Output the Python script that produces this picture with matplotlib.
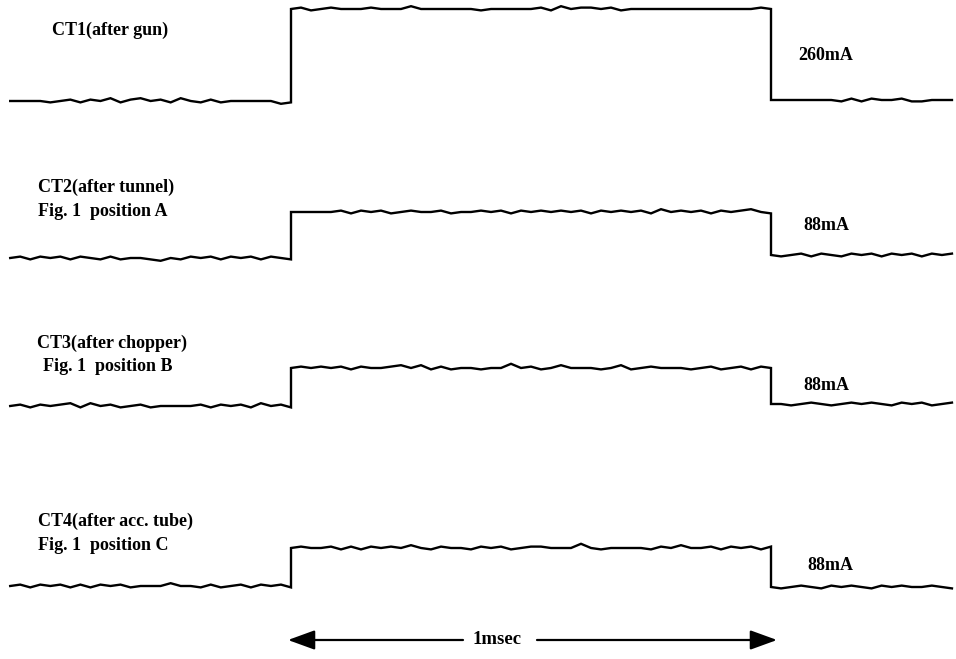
import numpy as np
import matplotlib
matplotlib.use("Agg")
import matplotlib.pyplot as plt

plt.rcParams['font.family'] = ['Liberation Serif', 'DejaVu Serif']

# time in msec: beam pulse starts at 0, ends at 1
t_start = -0.585
t_end = 1.377

names = ["CT1(after gun)", "CT2(after tunnel)", "CT3(after chopper)", "CT4(after acc. tube)"]
positions = ["", "Fig. 1  position A", "Fig. 1  position B", "Fig. 1  position C"]
currents = ["260mA", "88mA", "88mA", "88mA"]

# pulse heights on the scope screen and baseline shift after the pulse
heights = [92, 46, 38, 38]
post_shift = [1, 3, 2, -1]

# ripple (before pulse / flat top / after pulse)
ct1_pre = [0,0,0,0,-1,0,1,-1,1,0, 2,-1,1,2,0,1,-1,2,0,-1, 1,-1,0,0,0,0,0,-2,-1]
ct1_top = [0,1,-1,0,1,0,0,0,1,0, 0,0,2,0,0,0,0,0,0,-1, 0,0,0,0,0,1,-1,2,0,1,
           1,0,1,-1,0,0,0,0,0,0, 0,0,0,0,0,0,0,1,0]
ct1_post = [0,0,0,0,0,0,0,-1,1,-1, 1,0,0,1,-1,-1,0,0,0]

ct2_pre = [0,1,-1,1,0,1,-1,1,0,-1, 1,-1,0,0,-1,-2,0,-1,1,0, 1,-1,1,0,1,-1,1,0,-1]
ct2_top = [0,0,0,0,0,1,-1,1,0,1, -1,0,1,0,0,1,-1,0,0,1, 0,1,-1,1,0,1,0,1,0,1,
           -1,1,0,1,0,1,-1,2,0,1, 0,1,-1,1,0,1,2,0,-1]
ct2_post = [0,-1,0,1,-1,1,0,-1,1,0, 1,-1,1,0,1,-1,1,0,1]

ct3_pre = [0,1,-1,1,0,1,2,-1,2,0, 1,-1,0,1,-1,0,0,0,0,1, -1,1,0,1,-1,2,0,1,-1]
ct3_top = [0,1,0,1,0,1,-1,1,0,0, 1,2,0,2,-1,1,-1,0,0,-1, 0,0,3,0,1,-1,0,2,0,0,
           0,-1,0,2,-1,0,1,0,0,0, -1,0,1,-1,0,1,-1,1,0]
ct3_post = [0,0,-1,0,1,0,-1,0,1,0, 1,0,-1,1,0,1,-1,0,1]

ct4_pre = [0,1,-1,1,0,1,-1,1,-1,1, 0,1,-1,0,0,0,2,0,0,-1, 1,-1,0,1,-1,1,0,1,-1]
ct4_top = [0,1,0,0,1,-1,1,-1,1,0, 1,0,2,0,-1,1,0,0,-1,1, 0,1,-1,0,1,1,0,0,0,3,
           0,-1,0,0,0,0,-1,1,0,2, 0,0,1,-1,1,0,1,-1,1]
ct4_post = [0,-1,0,1,0,-1,1,0,1,0, -1,1,0,1,0,0,1,0,-1]

ripple = [(ct1_pre, ct1_top, ct1_post), (ct2_pre, ct2_top, ct2_post),
          (ct3_pre, ct3_top, ct3_post), (ct4_pre, ct4_top, ct4_post)]

# layout (screen units from the bottom of the page)
offsets = [558, 401, 253, 73]
ripple_gain = 1.4
name_xy = [(52, 30), (38, 187), (37, 343), (38, 521)]
pos_xy = [None, (38, 211), (43, 366), (38, 545)]
cur_xy = [(798, 56), (803, 225), (803, 385), (807, 566)]

W, H = 956, 659
fig = plt.figure(figsize=(W / 100, H / 100), dpi=100)
ax = fig.add_axes([0, 0, 1, 1])
ax.set_xlim(-291 / 480, (W - 291) / 480)
ax.set_ylim(0, H)
ax.axis('off')

for i in range(4):
    pre, top, post = ripple[i]
    t = np.concatenate([np.linspace(t_start, 0, len(pre)),
                        np.linspace(0, 1, len(top)),
                        np.linspace(1, t_end, len(post))])
    y = np.concatenate([np.array(pre, float) * ripple_gain,
                        np.array(top, float) * ripple_gain + heights[i],
                        np.array(post, float) * ripple_gain + post_shift[i]]) + offsets[i]
    ax.plot(t, y, color='black', lw=1.7, solid_joinstyle='miter')

    kw = dict(fontsize=13, fontweight='bold', va='center', ha='left')
    fig.text(name_xy[i][0] / W, 1 - name_xy[i][1] / H, names[i], **kw)
    if pos_xy[i] is not None:
        fig.text(pos_xy[i][0] / W, 1 - pos_xy[i][1] / H, positions[i], **kw)
    fig.text(cur_xy[i][0] / W, 1 - cur_xy[i][1] / H, currents[i], **kw)

# 1 msec scale bar
ya = H - 640
fig.text(497 / W, 1 - 640 / H, "1msec", fontsize=13.5, fontweight='bold',
         ha='center', va='center')
ap = dict(arrowstyle='-|>,head_length=1.1,head_width=0.4', color='black',
          lw=1.6, mutation_scale=15, shrinkA=0, shrinkB=0)
ax.annotate('', xy=((288 - 291) / 480, ya), xytext=((463 - 291) / 480, ya), arrowprops=ap)
ax.annotate('', xy=((777 - 291) / 480, ya), xytext=((537 - 291) / 480, ya), arrowprops=ap)

fig.savefig('out.png', dpi=100, facecolor='white')
